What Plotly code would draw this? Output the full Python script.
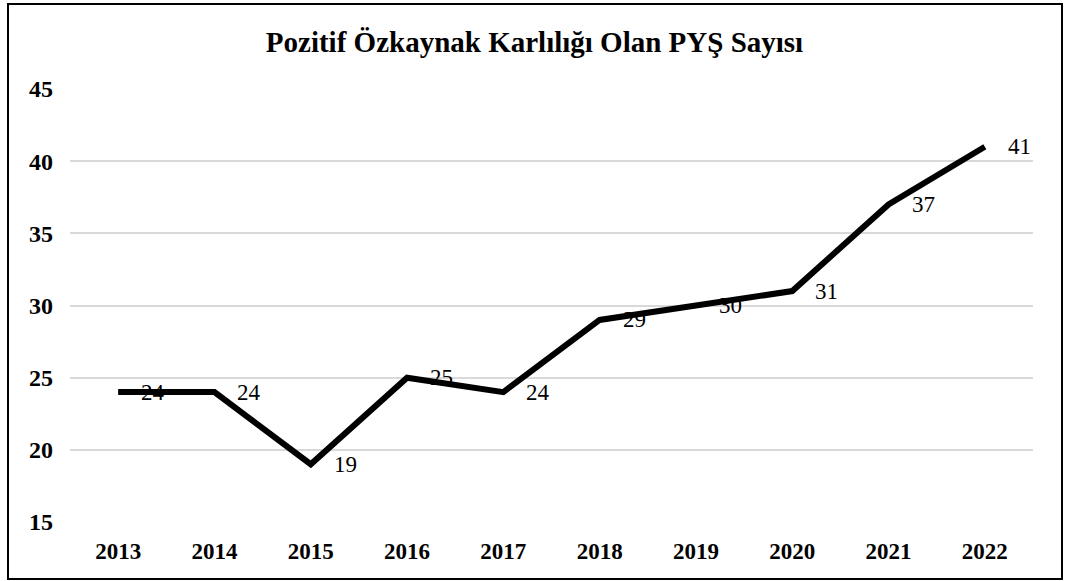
import plotly.graph_objects as go

years = ["2013", "2014", "2015", "2016", "2017", "2018", "2019", "2020", "2021", "2022"]
counts = [24, 24, 19, 25, 24, 29, 30, 31, 37, 41]
y_ticks = [15, 20, 25, 30, 35, 40, 45]
title_text = "Pozitif Özkaynak Karlılığı Olan PYŞ Sayısı"

serif = "Liberation Serif, Times New Roman, serif"

fig = go.Figure()
fig.add_trace(go.Scatter(
    x=years, y=counts, mode="lines",
    line=dict(color="black", width=6),
    hoverinfo="skip", showlegend=False,
))

for i, y in enumerate(counts):
    fig.add_annotation(
        x=i, y=y, text=str(y), showarrow=False,
        xanchor="left", yanchor="middle", xshift=21,
        font=dict(family=serif, size=23, color="black"),
    )

fig.update_layout(
    width=1065, height=581,
    margin=dict(l=70, r=32, t=89, b=59),
    paper_bgcolor="white", plot_bgcolor="white",
    title=dict(text="<b>" + title_text + "</b>", x=(263 + 806) / 2 / 1065, xanchor="center",
               y=1 - 42 / 581, yanchor="middle",
               font=dict(family=serif, size=29, color="black")),
    xaxis=dict(type="category", categoryorder="array", categoryarray=years,
               range=[-0.5, len(years) - 0.5],
               showgrid=False, showline=False, ticks="",
               tickfont=dict(family=serif, size=23, color="black", weight="bold"),
               ticklabelstandoff=13),
    yaxis=dict(range=[15, 45], tickvals=y_ticks, showgrid=True,
               gridcolor="#d9d9d9", gridwidth=2, zeroline=False,
               showline=False, ticks="",
               tickfont=dict(family=serif, size=24, color="black", weight="bold"),
               ticklabelstandoff=16),
    shapes=[dict(type="rect", xref="paper", yref="paper",
                 x0=(8 - 70) / 963, x1=(1062 - 70) / 963,
                 y0=(522 - 579) / 433, y1=(522 - 4) / 433,
                 line=dict(color="black", width=2), layer="above")],
)

fig.write_html("out.html", config={"displayModeBar": False},
               post_script="document.body.style.margin='0';")
